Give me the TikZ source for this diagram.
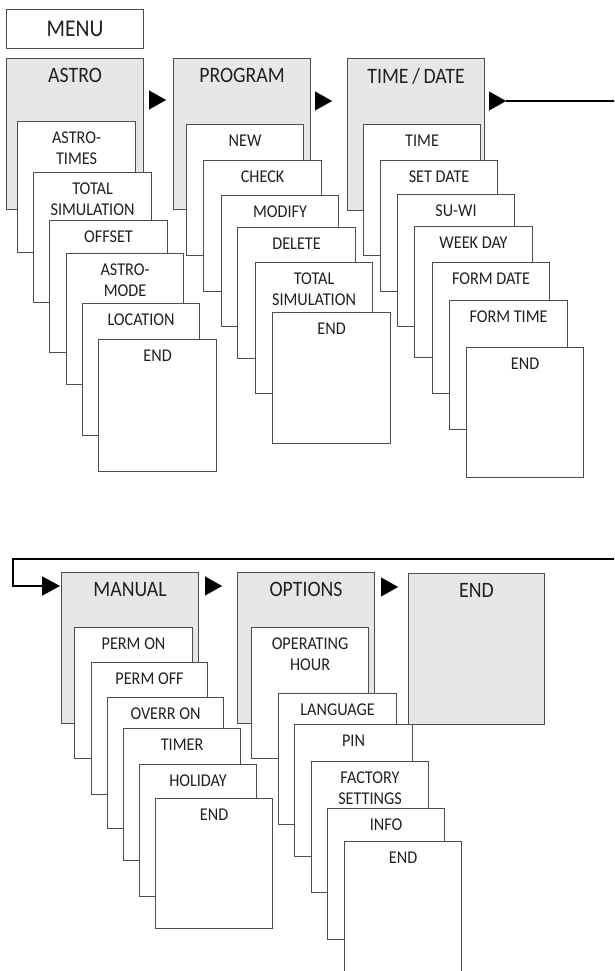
\documentclass[tikz,border=0pt]{standalone}
\usepackage{fontspec}
\setmainfont{Carlito}[FakeStretch=0.9]
\usetikzlibrary{arrows.meta}
\definecolor{boxgray}{HTML}{E6E7E8}
\definecolor{edge}{HTML}{4D4D4D}
\definecolor{ink}{HTML}{231F20}
\tikzset{
  panel/.style={draw=edge, line width=1.1pt, fill=boxgray, rectangle, inner sep=0pt, anchor=north west},
  subpanel/.style={draw=edge, line width=1.1pt, fill=white, rectangle, inner sep=0pt, anchor=north west},
  bigtxt/.style={font=\fontsize{22}{25}\selectfont, text=ink, inner sep=0pt, anchor=north, align=center},
  smalltxt/.style={font=\fontsize{18}{21}\selectfont, text=ink, inner sep=0pt, anchor=north, align=center},
  menutxt/.style={font=\fontsize{24}{27}\selectfont, text=ink, inner sep=0pt, anchor=center},
  tri/.style={-{Triangle[length=17pt,width=19pt]}, line width=0.1pt, draw=black},
  flow/.style={line width=2pt, draw=black},
}
\newcommand\panelbox[6]{\node[panel, minimum width={#4-#2}, minimum height={#5-#3}] (#1) at (#2,#3) {};
 \node[bigtxt] (#1t) at ([yshift=-10.5pt]#1.north) {#6};}
\newcommand\subbox[6]{\node[subpanel, minimum width={#4-#2}, minimum height={#5-#3}] (#1) at (#2,#3) {};
 \node[smalltxt] (#1t) at ([yshift=-10.6pt]#1.north) {#6};}
\begin{document}
\begin{tikzpicture}[x=1pt,y=-1pt]
\useasboundingbox (0,0) rectangle (614,971);
\clip (0,0) rectangle (614,971);
% MENU
\node[subpanel, minimum width=137, minimum height=39] (menu) at (6,9) {};
\node[menutxt] (menut) at (menu.center) {MENU};
% ASTRO column
\panelbox{astro}{6}{58}{143}{209}{ASTRO}
\subbox{a1}{17}{121}{135}{252}{ASTRO-\\TIMES}
\subbox{a2}{33}{172}{151}{302}{TOTAL\\SIMULATION}
\subbox{a3}{49}{220}{167}{352}{OFFSET}
\subbox{a4}{66}{253}{183}{384}{ASTRO-\\MODE}
\subbox{a5}{82}{303}{199}{435}{LOCATION}
\subbox{a6}{98}{339}{216}{471}{END}
% PROGRAM column
\panelbox{program}{173}{58}{310}{209}{PROGRAM}
\subbox{p1}{186}{124}{303}{255}{NEW}
\subbox{p2}{203}{160}{321}{291}{CHECK}
\subbox{p3}{221}{195}{338}{326}{MODIFY}
\subbox{p4}{237}{227}{355}{358}{DELETE}
\subbox{p5}{255}{262}{372}{393}{TOTAL\\SIMULATION}
\subbox{p6}{272}{312}{390}{443}{END}
% TIME/DATE column
\panelbox{timedate}{347}{58}{484}{210}{TIME\,/\,DATE}
\subbox{t1}{363}{124}{480}{255}{TIME}
\subbox{t2}{380}{160}{497}{291}{SET DATE}
\subbox{t3}{397}{194}{514}{326}{SU-WI}
\subbox{t4}{414}{226}{532}{357}{WEEK DAY}
\subbox{t5}{432}{262}{549}{393}{FORM DATE}
\subbox{t6}{449}{300}{567}{429}{FORM TIME}
\subbox{t7}{466}{347}{583}{477}{END}
% MANUAL column
\panelbox{manual}{61}{572}{198}{723}{MANUAL}
\subbox{m1}{74}{627}{192}{758}{PERM ON}
\subbox{m2}{91}{662}{207}{794}{PERM OFF}
\subbox{m3}{107}{697}{223}{828}{OVERR ON}
\subbox{m4}{123}{728}{240}{860}{TIMER}
\subbox{m5}{139}{764}{256}{896}{HOLIDAY}
\subbox{m6}{155}{798}{272}{928}{END}
% OPTIONS column
\panelbox{options}{237}{572}{374}{723}{OPTIONS}
\panelbox{endp}{408}{573}{544}{724}{END}
\subbox{o1}{251}{627}{368}{758}{OPERATING\\HOUR}
\subbox{o2}{278}{693}{396}{824}{LANGUAGE}
\subbox{o3}{294}{724}{412}{856}{PIN}
\subbox{o4}{311}{761}{428}{892}{FACTORY\\SETTINGS}
\subbox{o5}{327}{808}{444}{939}{INFO}
\subbox{o6}{344}{841}{461}{995}{END}
% arrows
\draw[tri] ([shift={(5,42)}]astro.north east) -- ([shift={(-7,42)}]program.north west);
\draw[tri] ([shift={(5,43)}]program.north east) -- ([shift={(-15,43)}]timedate.north west);
\coordinate (tdend) at (506,101);
\draw[tri] ([shift={(5,43)}]timedate.north east) -- (tdend);
\coordinate (r1) at (630,101);
\coordinate (r2) at (630,559);
\coordinate (l1) at (13,559);
\coordinate (l2) at (13,586);
\draw[flow, -{Triangle[length=18pt,width=19pt]}] (tdend) -- (r1) -- (r2) -- (l1) -- (l2) -- ([shift={(-1,14)}]manual.north west);
\draw[tri] ([shift={(7,14)}]manual.north east) -- ([shift={(-15,14)}]options.north west);
\draw[tri] ([shift={(7,15)}]options.north east) -- ([shift={(-10,14)}]endp.north west);
\end{tikzpicture}
\end{document}
